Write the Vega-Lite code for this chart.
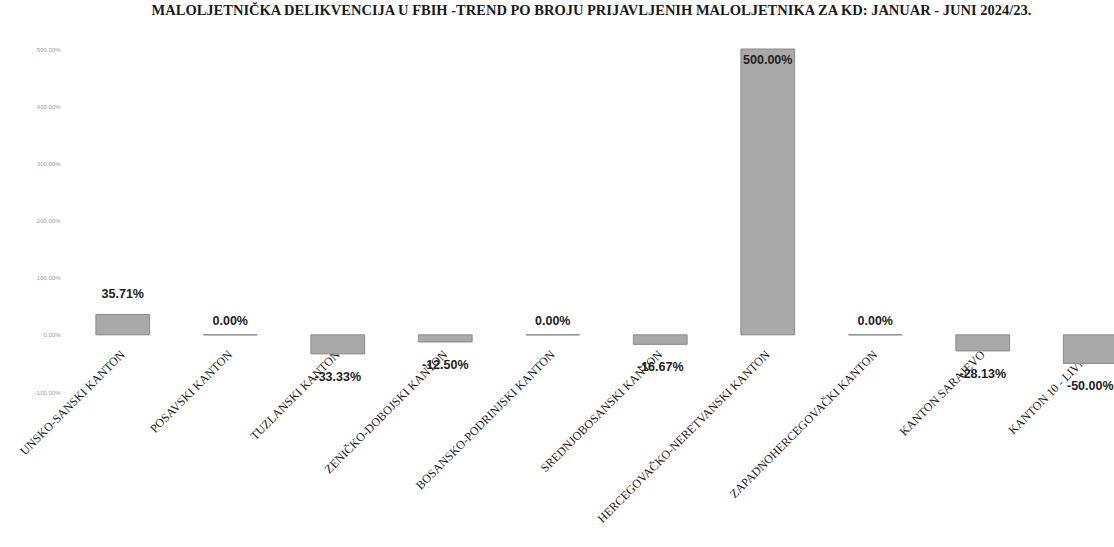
{
  "$schema": "https://vega.github.io/schema/vega-lite/v6.json",
  "autosize": {"type": "none"},
  "padding": {"left": 69, "top": 49, "right": 0, "bottom": 155},
  "width": 1045,
  "height": 343,
  "background": "white",
  "title": {
    "text": "MALOLJETNIČKA DELIKVENCIJA U FBIH  -TREND PO BROJU PRIJAVLJENIH MALOLJETNIKA ZA KD:  JANUAR -  JUNI 2024/23.",
    "font": "Liberation Serif",
    "fontSize": 14.5,
    "fontWeight": "bold",
    "color": "#1a1a1a",
    "anchor": "middle",
    "offset": 28
  },
  "config": {
    "view": {"stroke": null},
    "locale": {"number": {"decimal": ".", "thousands": ",", "grouping": [3], "currency": ["$", ""], "minus": "-"}}
  },
  "data": {
    "values": [
      {"kanton": "UNSKO-SANSKI KANTON", "trend": 0.3571},
      {"kanton": "POSAVSKI KANTON", "trend": 0.0},
      {"kanton": "TUZLANSKI KANTON", "trend": -0.3333},
      {"kanton": "ZENIČKO-DOBOJSKI KANTON", "trend": -0.125},
      {"kanton": "BOSANSKO-PODRINJSKI KANTON", "trend": 0.0},
      {"kanton": "SREDNJOBOSANSKI KANTON", "trend": -0.1667},
      {"kanton": "HERCEGOVAČKO-NERETVANSKI KANTON", "trend": 5.0},
      {"kanton": "ZAPADNOHERCEGOVAČKI KANTON", "trend": 0.0},
      {"kanton": "KANTON SARAJEVO", "trend": -0.2813},
      {"kanton": "KANTON 10 - LIVNO", "trend": -0.5}
    ]
  },
  "encoding": {
    "x": {
      "field": "kanton",
      "type": "nominal",
      "sort": null,
      "scale": {"range": [0, 1075], "paddingInner": 0.5, "paddingOuter": 0.25},
      "axis": {
        "title": null,
        "orient": "bottom",
        "offset": -54,
        "domain": false,
        "ticks": false,
        "labelPadding": 14,
        "labelAngle": -45,
        "labelAlign": "right",
        "labelBaseline": "middle",
        "labelFont": "Liberation Serif",
        "labelFontSize": 12,
        "labelColor": "#1a1a1a",
        "labelLimit": 400,
        "labelOverlap": false,
        "labelBound": false
      }
    },
    "y": {
      "field": "trend",
      "type": "quantitative",
      "scale": {"domain": [-1, 5], "nice": false},
      "axis": {
        "title": null,
        "format": ".2%",
        "values": [-1, 0, 1, 2, 3, 4, 5],
        "domain": false,
        "ticks": false,
        "grid": false,
        "labelPadding": 9,
        "labelFont": "Liberation Sans",
        "labelFontSize": 6,
        "labelColor": "#9a9a9a"
      }
    }
  },
  "layer": [
    {
      "mark": {"type": "bar", "color": "#a9a9a9", "stroke": "#8a8a8a", "strokeWidth": 1}
    },
    {
      "transform": [{"filter": "datum.trend > 0 && datum.trend < 4"}],
      "mark": {"type": "text", "baseline": "bottom", "dy": -13, "font": "Liberation Sans", "fontSize": 12.5, "fontWeight": "bold", "color": "#222222"},
      "encoding": {"text": {"field": "trend", "type": "quantitative", "format": ".2%"}}
    },
    {
      "transform": [{"filter": "datum.trend == 0"}],
      "mark": {"type": "text", "baseline": "bottom", "dy": -7, "font": "Liberation Sans", "fontSize": 12.5, "fontWeight": "bold", "color": "#222222"},
      "encoding": {"text": {"field": "trend", "type": "quantitative", "format": ".2%"}}
    },
    {
      "transform": [{"filter": "datum.trend < 0"}],
      "mark": {"type": "text", "baseline": "top", "dy": 17, "font": "Liberation Sans", "fontSize": 12.5, "fontWeight": "bold", "color": "#222222"},
      "encoding": {"text": {"field": "trend", "type": "quantitative", "format": ".2%"}}
    },
    {
      "transform": [{"filter": "datum.trend >= 4"}],
      "mark": {"type": "text", "baseline": "top", "dy": 5, "font": "Liberation Sans", "fontSize": 12.5, "fontWeight": "bold", "color": "#222222"},
      "encoding": {"text": {"field": "trend", "type": "quantitative", "format": ".2%"}}
    }
  ]
}
